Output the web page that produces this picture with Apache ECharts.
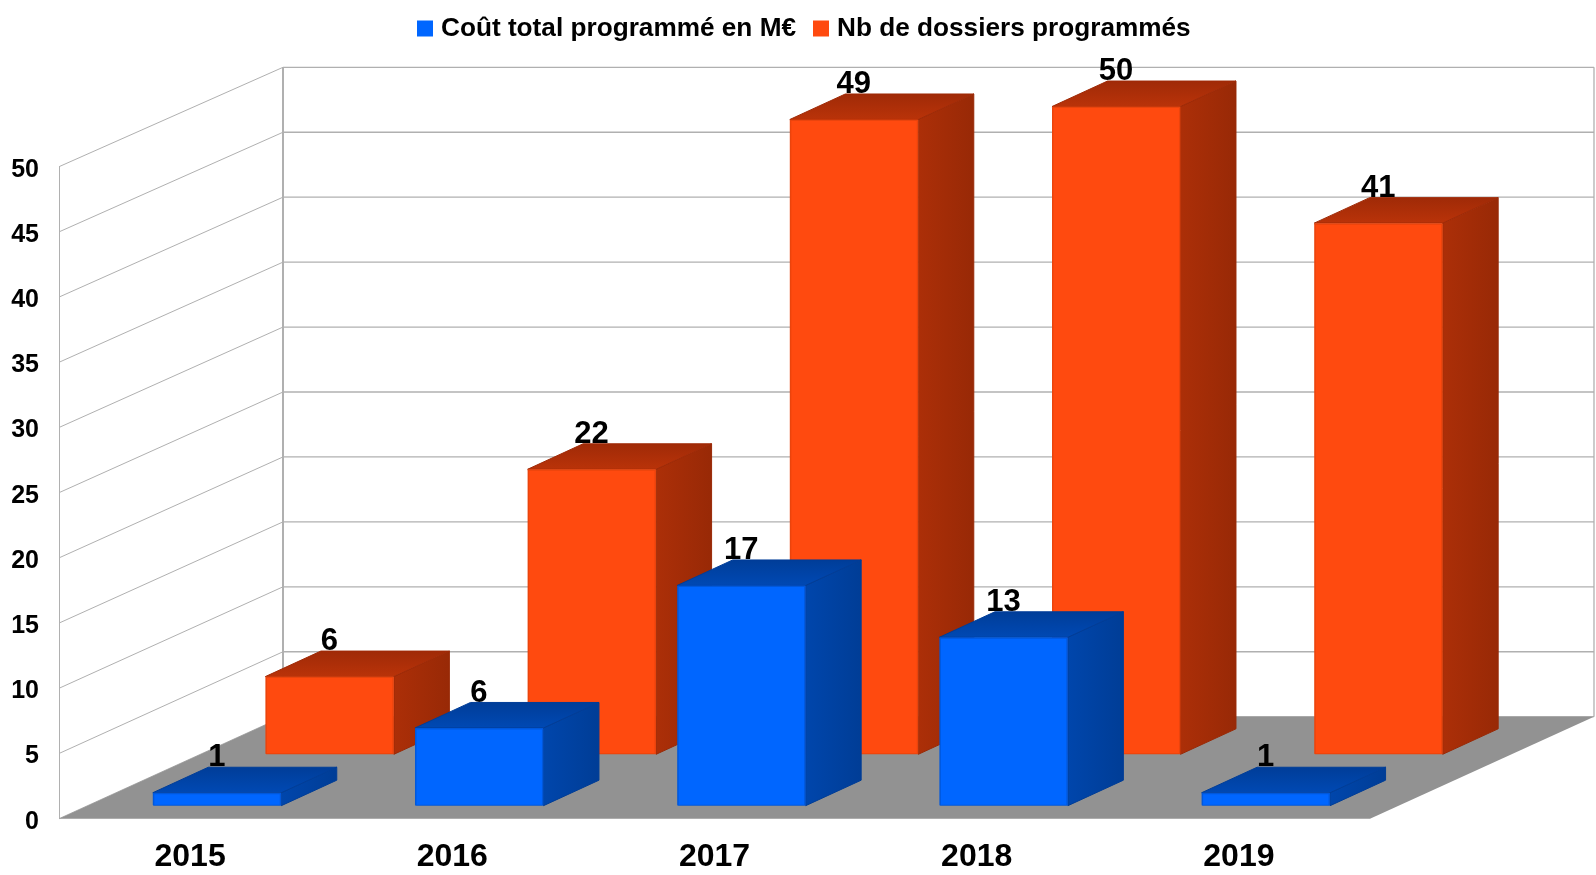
<!DOCTYPE html>
<html>
<head>
<meta charset="utf-8">
<style>html,body{margin:0;padding:0;background:#fff}#c{width:1596px;height:875px;filter:blur(0.45px)}</style>
<script src="https://cdn.jsdelivr.net/npm/echarts@6/dist/echarts.min.js"></script>
</head>
<body>
<div id="c"></div>
<script>
var categories = ['2015', '2016', '2017', '2018', '2019'];
var coutValues = [1, 6, 17, 13, 1];
var dossiersValues = [6, 22, 49, 50, 41];
var yTicks = [0, 5, 10, 15, 20, 25, 30, 35, 40, 45, 50];
var coutName = 'Coût total programmé en M€';
var dossiersName = 'Nb de dossiers programmés';

var FONT = '"Liberation Sans", Arial, sans-serif';
var WALL_DX = 224, WALL_DY = -102, BACK_SCALE = 0.996, GRID_C = '#b0b0b0';
var BAR_DX = 55.5, BAR_DY = -25.5, BAR_W = 0.49, BAR_SCALE = 0.9935;

function pts(cat, vals) { return vals.map(function (v, i) { return [cat[i], v]; }); }

function lin(x, y, x2, y2, a, b) {
  return { type: 'linear', x: x, y: y, x2: x2, y2: y2, colorStops: [{ offset: 0, color: a }, { offset: 1, color: b }] };
}

function barRenderer(pal, bandOffset, lift) {
  return function (params, api) {
    var i = api.value(0), v = api.value(1);
    var c0 = api.coord([i, 0]), c1 = api.coord([i, v]);
    var band = api.size([1, 0])[0];
    var w = band * BAR_W;
    var x = c0[0] + band * bandOffset;
    var yb = c0[1] - lift;
    var yt = yb - (c0[1] - c1[1]) * BAR_SCALE;
    return {
      type: 'group',
      children: [
        { type: 'text', style: { x: x + 64, y: yt + BAR_DY - 9.5, text: String(v), fill: '#000', align: 'center', verticalAlign: 'middle', font: 'bold 31px ' + FONT } },
        { type: 'polygon', shape: { points: [[x + w, yb], [x + w + BAR_DX, yb + BAR_DY], [x + w + BAR_DX, yt + BAR_DY], [x + w, yt]] },
          style: { fill: lin(0, 0, 1, 0, pal.sideA, pal.sideB), stroke: pal.sideB, lineWidth: 1, lineJoin: 'round' } },
        { type: 'polygon', shape: { points: [[x, yt], [x + w, yt], [x + w + BAR_DX, yt + BAR_DY], [x + BAR_DX, yt + BAR_DY]] },
          style: { fill: lin(0, 1, 0, 0, pal.topA, pal.topB), stroke: pal.topB, lineWidth: 1, lineJoin: 'round' } },
        { type: 'rect', shape: { x: x, y: yt, width: w, height: yb - yt, r: 1 },
          style: { fill: pal.edge } },
        { type: 'rect', shape: { x: x + 1.5, y: yt + 1.5, width: w - 3, height: yb - yt - 2.5 },
          style: { fill: pal.front } }
      ]
    };
  };
}

var bluePal = { front: '#0066ff', edge: '#0058dc', sideA: '#0046ac', sideB: '#003d96', topA: '#0049b4', topB: '#003d98' };
var orangePal = { front: '#ff4a0f', edge: '#ea440d', sideA: '#ac2f08', sideB: '#982906', topA: '#ba3309', topB: '#9f2a07' };

var option = {
  animation: false,
  backgroundColor: '#fff',
  legend: {
    left: 412, top: 10.5, icon: 'rect', itemWidth: 16, itemHeight: 16, itemGap: 17,
    data: [coutName, dossiersName],
    textStyle: { fontFamily: FONT, fontWeight: 'bold', fontSize: 26.2, color: '#000', padding: [0, 0, 0, 3] }
  },
  grid: { left: 59, top: 166.7, width: 1311, height: 652 },
  xAxis: {
    type: 'category', data: categories,
    axisLine: { show: false }, axisTick: { show: false },
    axisLabel: { color: '#000', fontFamily: FONT, fontWeight: 'bold', fontSize: 32, margin: 22 }
  },
  yAxis: {
    type: 'value', min: 0, max: 50, interval: 5,
    axisLine: { show: true, lineStyle: { color: GRID_C, width: 1 } },
    axisTick: { show: false }, splitLine: { show: false },
    axisLabel: { color: '#000', fontFamily: FONT, fontWeight: 'bold', fontSize: 25, margin: 20, verticalAlign: 'top', lineHeight: 6 }
  },
  series: [
    { type: 'custom', name: 'murs', silent: true, z: 1, data: yTicks.map(function (t) { return [0, t]; }),
      encode: { x: 0, y: 1 },
      renderItem: function (params, api) {
        var cs = params.coordSys, t = api.value(1);
        var y0 = api.coord([0, 0])[1], y = api.coord([0, t])[1], x = cs.x;
        var bx = x + WALL_DX, by0 = y0 + WALL_DY, by = by0 - (y0 - y) * BACK_SCALE, rx = x + cs.width + WALL_DX;
        var line = { stroke: GRID_C, lineWidth: 1.3 };
        var children = [
          { type: 'line', shape: { x1: x, y1: y, x2: bx, y2: by }, style: { stroke: GRID_C, lineWidth: 1 } },
          { type: 'line', shape: { x1: bx, y1: by, x2: rx, y2: by }, style: line }
        ];
        if (t === 50) {
          children.push({ type: 'line', shape: { x1: bx, y1: by0, x2: bx, y2: by }, style: { stroke: GRID_C, lineWidth: 2 } });
          children.push({ type: 'line', shape: { x1: rx, y1: by0, x2: rx, y2: by }, style: { stroke: GRID_C, lineWidth: 1.3 } });
        }
        return { type: 'group', children: children };
      } },
    { type: 'custom', name: 'sol', silent: true, z: 2, data: [[0, 0]],
      encode: { x: 0, y: 1 },
      renderItem: function (params, api) {
        var cs = params.coordSys, y = api.coord([0, 0])[1], x = cs.x;
        return { type: 'polygon', shape: { points: [[x, y], [x + WALL_DX, y + WALL_DY], [x + cs.width + WALL_DX, y + WALL_DY], [x + cs.width, y]] },
          style: { fill: '#929292' } };
      } },
    { type: 'custom', name: dossiersName, z: 3, itemStyle: { color: '#ff4a0f' },
      data: pts(categories, dossiersValues), encode: { x: 0, y: 1 },
      renderItem: barRenderer(orangePal, 0.2872, 64.4) },
    { type: 'custom', name: coutName, z: 4, itemStyle: { color: '#0066ff' },
      data: pts(categories, coutValues), encode: { x: 0, y: 1 },
      renderItem: barRenderer(bluePal, -0.1423, 13) }
  ]
};
var chart = echarts.init(document.getElementById('c'), null, { renderer: 'canvas' });
chart.setOption(option);
</script>
</body>
</html>
